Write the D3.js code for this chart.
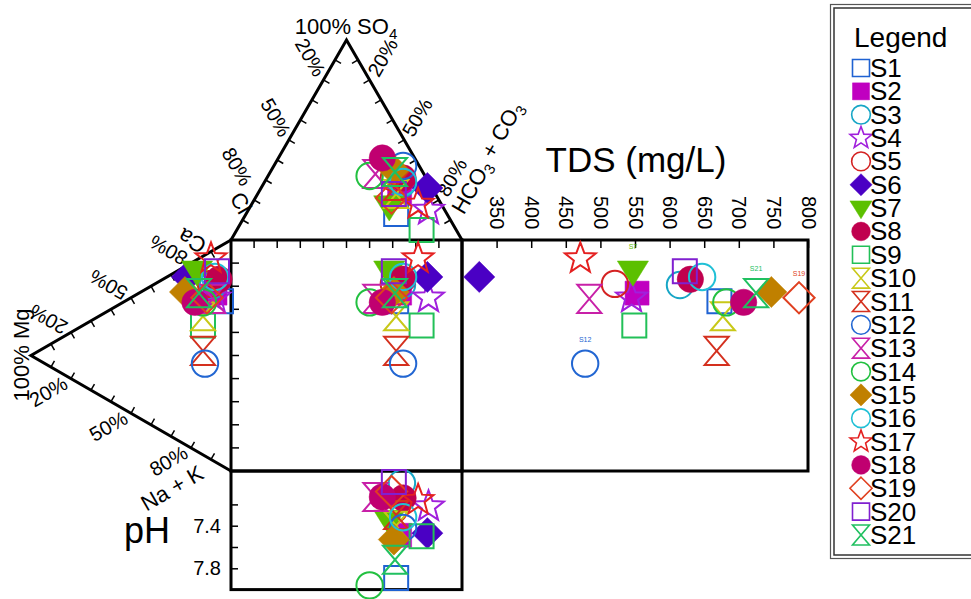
<!DOCTYPE html>
<html lang="en">
<head>
<meta charset="UTF-8">
<title>Durov diagram</title>
<script src="https://cdnjs.cloudflare.com/ajax/libs/d3/7.8.5/d3.min.js"></script>
<style>
    body { margin: 0; background: #fff; }
    text { font-family: "Liberation Sans", Arial, sans-serif; fill: #000; }
</style>
</head>
<body>
<div id="chart"></div>
<script>

    // sample data (percent of meq, TDS in mg/L)
    var samples = ["S1","S2","S3","S4","S5","S6","S7","S8","S9","S10","S11","S12","S13","S14","S15","S16","S17","S18","S19","S20","S21"];
    var ca   = [71,73,76,71,76,73,78,80,56,60,45,40,70,66,66,80,87,64,69,83,69];
    var mg   = [ 5, 8, 9, 8,10,22,17, 6,14,14,14,13, 9,14,23, 8,10,18,12, 7,16];
    var naK  = [24,19,15,21,14, 5, 5,14,30,26,41,47,21,20,11,12, 3,18,19,10,15];
    var cl   = [22,15,12, 7,14, 2,23,10,15,17,15, 7,21,24,12,11,10,14,20,18,12];
    var so4  = [13,24,28,15,31,26,17,31, 5,23,27,37,33,32,35,29,18,41,21,23,34];
    var hco3 = [65,61,60,78,55,72,60,59,80,60,58,56,46,44,53,60,72,45,59,59,54];
    var tds  = [672,553,615,545,521,325,547,630,549,677,668,478,484,682,747,647,471,707,787,622,725];
    var ph   = [7.89,7.49,7.00,7.22,7.25,7.47,7.35,7.14,7.50,7.40,7.30,7.42,7.13,7.96,7.53,7.32,7.16,7.13,7.08,6.99,7.72];

    var pctTicks = [20, 50, 80];
    var tdsTicks = [350, 400, 450, 500, 550, 600, 650, 700, 750, 800];
    var phTicks = [7.2, 7.4, 7.6, 7.8];
    var phLabels = [7.4, 7.8];
    var tdsLabelled = ["S7", "S12", "S19", "S21"];

    var markerShape = ["square","square","circle","star","circle","diamond","tri","circle","square","hourglass","hourglass",
                       "circle","hourglass","circle","diamond","circle","star","circle","diamond","square","hourglass"];
    var markerFilled = [0,1,0,0,0,1,1,1,0,0,0,0,0,0,1,0,0,1,0,0,0];
    var markerColor = ["#1f62d2","#c000c0","#17a6c6","#a020dc","#d42222","#4a00c4","#5cc000","#c0004e","#22c058","#c8c818","#d4301e",
                       "#2266d2","#c820a8","#22c040","#c08000","#20c0d6","#e42020","#c00070","#e04020","#8020d0","#20c060"];

    var W = 971, H = 599;
    var svg = d3.select("#chart").append("svg").attr("width", W).attr("height", H);

    var side = 231, x0 = 231, y0 = 240;
    var th = side * Math.sqrt(3) / 2;

    var xAn  = d3.scaleLinear().domain([0, 100]).range([x0, x0 + side]);      // hco3 + so4/2
    var ySo4 = d3.scaleLinear().domain([0, 100]).range([y0, y0 - th]);
    var xMg  = d3.scaleLinear().domain([0, 100]).range([x0, x0 - th]);
    var yCat = d3.scaleLinear().domain([0, 100]).range([y0, y0 + side]);      // naK + mg/2
    var xTds = d3.scaleLinear().domain([300, 800]).range([x0 + side, 808]);
    var yPh  = d3.scaleLinear().domain([7, 8]).range([483.1, 589.6]);

    var cCl = [xAn(0), ySo4(0)], cHco3 = [xAn(100), ySo4(0)], cSo4 = [xAn(50), ySo4(100)];
    var cCa = [xMg(0), yCat(0)], cNaK = [xMg(0), yCat(100)], cMg = [xMg(100), yCat(50)];

    var data = samples.map(function(s, i) {
        return {
            name: s, i: i,
            ax: xAn(hco3[i] + so4[i] / 2), ay: ySo4(so4[i]),
            cx: xMg(mg[i]), cy: yCat(naK[i] + mg[i] / 2),
            tx: xTds(tds[i]), py: yPh(ph[i])
        };
    });

    function lerp(a, b, t) { return [a[0] + (b[0] - a[0]) * t, a[1] + (b[1] - a[1]) * t]; }

    function markerPath(shape, s) {
        if (shape == "square") return "M" + (-s) + "," + (-s) + "h" + 2 * s + "v" + 2 * s + "h" + (-2 * s) + "Z";
        if (shape == "circle") { var r = s * 1.1; return "M" + r + ",0A" + r + "," + r + " 0 1,1 " + (-r) + ",0A" + r + "," + r + " 0 1,1 " + r + ",0Z"; }
        if (shape == "diamond") { var d = s * 1.3; return "M0," + (-d) + "L" + d + ",0L0," + d + "L" + (-d) + ",0Z"; }
        if (shape == "tri") return "M" + (-1.3 * s) + "," + (-0.85 * s) + "L" + (1.3 * s) + "," + (-0.85 * s) + "L0," + (1.25 * s) + "Z";
        if (shape == "hourglass") return "M" + (-s) + "," + (-1.17 * s) + "L" + s + "," + (-1.17 * s) + "L" + (-s) + "," + (1.17 * s) + "L" + s + "," + (1.17 * s) + "Z";
        // star
        var R = s * 1.35, ri = R * 0.42, p = [];
        for (var k = 0; k < 10; k++) {
            var a = -Math.PI / 2 + k * Math.PI / 5, rr = k % 2 ? ri : R;
            p.push([rr * Math.cos(a), rr * Math.sin(a)]);
        }
        return "M" + p.join("L") + "Z";
    }

    function drawMarkers(g, xf, yf, s, sw) {
        g.selectAll("path.m").data(data).enter().append("path")
            .attr("class", "m")
            .attr("transform", function(d) { return "translate(" + xf(d) + "," + yf(d) + ")"; })
            .attr("d", function(d) { return markerPath(markerShape[d.i], s); })
            .attr("fill", function(d) { return markerFilled[d.i] ? markerColor[d.i] : "none"; })
            .attr("stroke", function(d) { return markerColor[d.i]; })
            .attr("stroke-width", function(d) { return markerFilled[d.i] ? 0.5 : sw; })
            .attr("stroke-linejoin", "miter");
    }

    // frames
    var frame = svg.append("g").attr("fill", "none").attr("stroke", "#000").attr("stroke-width", 3);
    var line = d3.line();
    frame.append("path").attr("d", line([cCl, cSo4, cHco3]));
    frame.append("path").attr("d", line([cCa, cMg, cNaK]));
    frame.append("rect").attr("x", x0).attr("y", y0).attr("width", side).attr("height", side);
    frame.append("rect").attr("x", x0 + side).attr("y", y0).attr("width", xTds(800) - xTds(300)).attr("height", side);
    frame.append("rect").attr("x", x0).attr("y", y0 + side).attr("width", side).attr("height", yPh(8) - y0 - side);

    // ticks on triangles and square
    var ticks = svg.append("g").attr("stroke", "#000").attr("stroke-width", 1.5);
    var tk = 7;
    var sides = [
        { a: cSo4, b: cCl,  n: [0.866, 0.5] },
        { a: cSo4, b: cHco3, n: [-0.866, 0.5] },
        { a: cCa,  b: cMg,  n: [0.5, 0.866] },
        { a: cMg,  b: cNaK, n: [0.5, -0.866] }
    ];
    d3.range(1, 10).forEach(function(k) {
        var t = k / 10;
        sides.forEach(function(sd) {
            var p = lerp(sd.a, sd.b, t);
            ticks.append("line").attr("x1", p[0]).attr("y1", p[1])
                .attr("x2", p[0] + sd.n[0] * tk).attr("y2", p[1] + sd.n[1] * tk);
        });
        ticks.append("line").attr("x1", xAn(k * 10)).attr("y1", y0).attr("x2", xAn(k * 10)).attr("y2", y0 + 8);
        ticks.append("line").attr("x1", x0).attr("y1", yCat(k * 10)).attr("x2", x0 + 8).attr("y2", yCat(k * 10));
    });

    // percent labels along triangle sides
    var lab = svg.append("g").attr("font-size", 20).attr("text-anchor", "middle");
    var off = 26;
    pctTicks.forEach(function(v) {
        var t = v / 100;
        var items = [
            { p: lerp(cSo4, cCl, t),   o: [-0.5, -0.866], r: 60,  txt: v },
            { p: lerp(cSo4, cHco3, t), o: [0.5, -0.866],  r: -60, txt: v },
            { p: lerp(cCa, cMg, 1 - t), o: [-0.866, -0.5], r: 210, txt: v },
            { p: lerp(cMg, cNaK, t),   o: [-0.866, 0.5],  r: -30, txt: v }
        ];
        // the Cl title sits under the last Cl label, push that label up a little
        if (v == 80) items[0].p = [items[0].p[0] - 4, items[0].p[1] - 11];
        items.forEach(function(it) {
            var x = it.p[0] + it.o[0] * off, y = it.p[1] + it.o[1] * off;
            lab.append("text").attr("transform", "translate(" + x + "," + y + ") rotate(" + it.r + ")")
                .attr("dy", "0.35em").text(it.txt + "%");
        });
    });

    // axis titles
    var tt = svg.append("g").attr("font-size", 22).attr("text-anchor", "middle");
    var so4t = tt.append("text").attr("x", 346).attr("y", 34);
    so4t.append("tspan").text("100% SO");
    so4t.append("tspan").attr("dy", "0.3em").attr("font-size", 15).text("4");

    tt.append("text").attr("transform", "translate(241,203) rotate(60)").attr("dy", "0.35em").text("Cl");

    var hc = tt.append("text").attr("transform", "translate(488,158) rotate(-60)").attr("dy", "0.35em");
    hc.append("tspan").text("HCO");
    hc.append("tspan").attr("dy", "0.3em").attr("font-size", 15).text("3");
    hc.append("tspan").attr("dy", "-0.3em").text(" + CO");
    hc.append("tspan").attr("dy", "0.3em").attr("font-size", 15).text("3");

    tt.append("text").attr("transform", "translate(192,241) rotate(210)").attr("dy", "0.35em").text("Ca");
    tt.append("text").attr("transform", "translate(21,355) rotate(-90)").attr("dy", "0.35em").text("100% Mg");
    tt.append("text").attr("transform", "translate(172,488) rotate(-30)").attr("dy", "0.35em").text("Na + K");

    svg.append("text").attr("x", 147).attr("y", 530).attr("dy", "0.35em").attr("font-size", 36)
        .attr("text-anchor", "middle").text("pH");
    svg.append("text").attr("x", 636).attr("y", 172).attr("font-size", 35)
        .attr("text-anchor", "middle").text("TDS (mg/L)");

    // TDS axis
    var tdsAxis = svg.append("g").attr("transform", "translate(0," + y0 + ")")
        .call(d3.axisTop(xTds).tickValues(tdsTicks).tickSizeInner(-8).tickSizeOuter(0));
    tdsAxis.select(".domain").remove();
    tdsAxis.selectAll("line").attr("stroke-width", 1.5);
    tdsAxis.selectAll("text").attr("font-size", 20)
        .attr("transform", "rotate(90)").attr("x", -44).attr("y", 0).attr("dy", "0.35em")
        .attr("text-anchor", "start");

    // pH axis
    var phAxis = svg.append("g").attr("transform", "translate(" + x0 + ",0)")
        .call(d3.axisLeft(yPh).tickValues(phTicks).tickSizeInner(-7).tickSizeOuter(0).tickPadding(10)
            .tickFormat(function(d) { return phLabels.indexOf(d) >= 0 ? d3.format(".1f")(d) : ""; }));
    phAxis.select(".domain").remove();
    phAxis.selectAll("line").attr("stroke-width", 1.5);
    phAxis.selectAll("text").attr("font-size", 20);

    // points
    drawMarkers(svg.append("g"), function(d) { return d.ax; }, function(d) { return d.ay; }, 12, 2);
    drawMarkers(svg.append("g"), function(d) { return d.cx; }, function(d) { return d.cy; }, 12, 2);
    drawMarkers(svg.append("g"), function(d) { return d.ax; }, function(d) { return d.cy; }, 12, 2);
    drawMarkers(svg.append("g"), function(d) { return d.tx; }, function(d) { return d.cy; }, 12, 2);
    drawMarkers(svg.append("g"), function(d) { return d.ax; }, function(d) { return d.py; }, 12, 2);

    svg.append("g").selectAll("text").data(data.filter(function(d) { return tdsLabelled.indexOf(d.name) >= 0; }))
        .enter().append("text")
        .attr("x", function(d) { return d.tx; }).attr("y", function(d) { return d.cy - 22; })
        .attr("text-anchor", "middle").attr("font-size", 7)
        .style("fill", function(d) { return markerColor[d.i]; })
        .text(function(d) { return d.name; });

    // legend
    var lg = svg.append("g");
    lg.append("rect").attr("x", 830.5).attr("y", 4.5).attr("width", 160).attr("height", 554)
        .attr("fill", "#fff").attr("stroke", "#555").attr("stroke-width", 1.2);
    lg.append("rect").attr("x", 834).attr("y", 8).attr("width", 160).attr("height", 547)
        .attr("fill", "none").attr("stroke", "#333").attr("stroke-width", 1.5);
    lg.append("text").attr("x", 854).attr("y", 47).attr("font-size", 28).text("Legend");
    var ly = d3.scalePoint().domain(samples).range([68, 535]);
    drawMarkers(lg.append("g"), function() { return 861; }, function(d) { return ly(d.name); }, 8.5, 1.6);
    lg.selectAll("text.entry").data(data).enter().append("text")
        .attr("class", "entry")
        .attr("x", 870).attr("y", function(d) { return ly(d.name) + 9; })
        .attr("font-size", 26).text(function(d) { return d.name; });

</script>
</body>
</html>
